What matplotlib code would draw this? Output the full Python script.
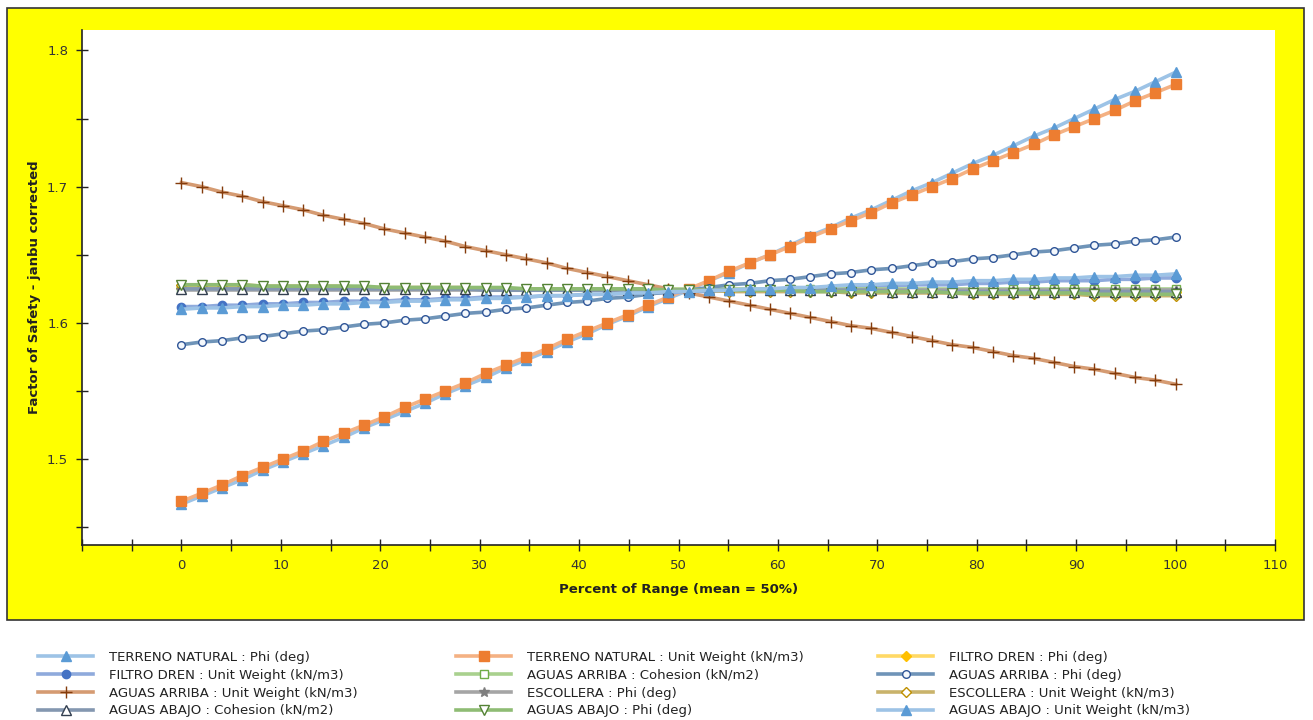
import numpy as np
import matplotlib.pyplot as plt
from matplotlib.patches import Rectangle
from matplotlib.ticker import MultipleLocator

# percent of range, 50 samples 0..100
pct = np.linspace(0, 100, 50)

tn_phi = [1.467, 1.473, 1.479, 1.485, 1.492, 1.498, 1.504, 1.510, 1.516, 1.523,
          1.529, 1.535, 1.541, 1.548, 1.554, 1.560, 1.567, 1.573, 1.579, 1.586,
          1.592, 1.599, 1.605, 1.612, 1.618, 1.624, 1.631, 1.637, 1.644, 1.650,
          1.657, 1.664, 1.670, 1.677, 1.683, 1.690, 1.697, 1.703, 1.710, 1.717,
          1.723, 1.730, 1.737, 1.743, 1.750, 1.757, 1.764, 1.770, 1.777, 1.784]
tn_uw = [1.469, 1.475, 1.481, 1.488, 1.494, 1.500, 1.506, 1.513, 1.519, 1.525,
         1.531, 1.538, 1.544, 1.550, 1.556, 1.563, 1.569, 1.575, 1.581, 1.588,
         1.594, 1.600, 1.606, 1.613, 1.619, 1.625, 1.631, 1.638, 1.644, 1.650,
         1.656, 1.663, 1.669, 1.675, 1.681, 1.688, 1.694, 1.700, 1.706, 1.713,
         1.719, 1.725, 1.731, 1.738, 1.744, 1.750, 1.756, 1.763, 1.769, 1.775]
fd_phi = [1.626, 1.626, 1.626, 1.626, 1.626, 1.626, 1.626, 1.626, 1.625, 1.625,
          1.625, 1.625, 1.625, 1.625, 1.625, 1.625, 1.625, 1.625, 1.625, 1.625,
          1.625, 1.625, 1.625, 1.625, 1.625, 1.624, 1.624, 1.624, 1.624, 1.624,
          1.624, 1.624, 1.624, 1.624, 1.624, 1.624, 1.624, 1.624, 1.624, 1.624,
          1.623, 1.623, 1.623, 1.623, 1.623, 1.623, 1.623, 1.623, 1.623, 1.623]
fd_uw = [1.612, 1.612, 1.613, 1.613, 1.614, 1.614, 1.615, 1.615, 1.616, 1.616,
         1.616, 1.617, 1.617, 1.618, 1.618, 1.619, 1.619, 1.619, 1.620, 1.620,
         1.621, 1.621, 1.622, 1.622, 1.622, 1.623, 1.623, 1.624, 1.624, 1.625,
         1.625, 1.625, 1.626, 1.626, 1.627, 1.627, 1.628, 1.628, 1.628, 1.629,
         1.629, 1.630, 1.630, 1.631, 1.631, 1.631, 1.632, 1.632, 1.633, 1.633]
aa_coh = [1.625, 1.625, 1.625, 1.625, 1.625, 1.625, 1.625, 1.625, 1.625, 1.625,
          1.625, 1.625, 1.625, 1.625, 1.625, 1.625, 1.625, 1.625, 1.625, 1.625,
          1.625, 1.625, 1.625, 1.625, 1.625, 1.625, 1.625, 1.625, 1.625, 1.625,
          1.625, 1.625, 1.625, 1.625, 1.625, 1.625, 1.625, 1.625, 1.625, 1.625,
          1.625, 1.625, 1.625, 1.625, 1.625, 1.625, 1.625, 1.625, 1.625, 1.625]
aa_phi = [1.584, 1.586, 1.587, 1.589, 1.590, 1.592, 1.594, 1.595, 1.597, 1.599,
          1.600, 1.602, 1.603, 1.605, 1.607, 1.608, 1.610, 1.611, 1.613, 1.615,
          1.616, 1.618, 1.619, 1.621, 1.623, 1.624, 1.626, 1.628, 1.629, 1.631,
          1.632, 1.634, 1.636, 1.637, 1.639, 1.640, 1.642, 1.644, 1.645, 1.647,
          1.648, 1.650, 1.652, 1.653, 1.655, 1.657, 1.658, 1.660, 1.661, 1.663]
aa_uw = [1.703, 1.700, 1.696, 1.693, 1.689, 1.686, 1.683, 1.679, 1.676, 1.673,
         1.669, 1.666, 1.663, 1.660, 1.656, 1.653, 1.650, 1.647, 1.644, 1.640,
         1.637, 1.634, 1.631, 1.628, 1.625, 1.622, 1.619, 1.616, 1.613, 1.610,
         1.607, 1.604, 1.601, 1.598, 1.596, 1.593, 1.590, 1.587, 1.584, 1.582,
         1.579, 1.576, 1.574, 1.571, 1.568, 1.566, 1.563, 1.560, 1.558, 1.555]
esc_phi = [1.624, 1.624, 1.624, 1.624, 1.624, 1.624, 1.624, 1.624, 1.624, 1.624,
           1.624, 1.624, 1.624, 1.624, 1.624, 1.624, 1.624, 1.624, 1.624, 1.624,
           1.624, 1.624, 1.624, 1.624, 1.624, 1.624, 1.624, 1.624, 1.624, 1.624,
           1.624, 1.624, 1.624, 1.624, 1.624, 1.624, 1.624, 1.624, 1.624, 1.624,
           1.624, 1.624, 1.624, 1.624, 1.624, 1.624, 1.624, 1.624, 1.624, 1.624]
esc_uw = [1.628, 1.628, 1.628, 1.628, 1.627, 1.627, 1.627, 1.627, 1.627, 1.626,
          1.626, 1.626, 1.626, 1.626, 1.626, 1.625, 1.625, 1.625, 1.625, 1.625,
          1.625, 1.624, 1.624, 1.624, 1.624, 1.624, 1.624, 1.623, 1.623, 1.623,
          1.623, 1.623, 1.623, 1.622, 1.622, 1.622, 1.622, 1.622, 1.622, 1.621,
          1.621, 1.621, 1.621, 1.621, 1.621, 1.620, 1.620, 1.620, 1.620, 1.620]
ab_coh = [1.625, 1.625, 1.625, 1.625, 1.625, 1.625, 1.625, 1.625, 1.625, 1.625,
          1.625, 1.625, 1.625, 1.625, 1.625, 1.624, 1.624, 1.624, 1.624, 1.624,
          1.624, 1.624, 1.624, 1.624, 1.624, 1.624, 1.624, 1.624, 1.624, 1.624,
          1.624, 1.624, 1.624, 1.624, 1.624, 1.623, 1.623, 1.623, 1.623, 1.623,
          1.623, 1.623, 1.623, 1.623, 1.623, 1.623, 1.623, 1.623, 1.623, 1.623]
ab_phi = [1.628, 1.628, 1.628, 1.628, 1.627, 1.627, 1.627, 1.627, 1.627, 1.627,
          1.626, 1.626, 1.626, 1.626, 1.626, 1.626, 1.626, 1.625, 1.625, 1.625,
          1.625, 1.625, 1.625, 1.625, 1.624, 1.624, 1.624, 1.624, 1.624, 1.624,
          1.624, 1.623, 1.623, 1.623, 1.623, 1.623, 1.623, 1.623, 1.622, 1.622,
          1.622, 1.622, 1.622, 1.622, 1.622, 1.621, 1.621, 1.621, 1.621, 1.621]
ab_uw = [1.610, 1.611, 1.611, 1.612, 1.612, 1.613, 1.613, 1.614, 1.614, 1.615,
         1.615, 1.616, 1.616, 1.617, 1.617, 1.618, 1.618, 1.619, 1.620, 1.620,
         1.621, 1.621, 1.622, 1.622, 1.623, 1.623, 1.624, 1.624, 1.625, 1.625,
         1.626, 1.626, 1.627, 1.628, 1.628, 1.629, 1.629, 1.630, 1.630, 1.631,
         1.631, 1.632, 1.632, 1.633, 1.633, 1.634, 1.634, 1.635, 1.635, 1.636]

# label, data, line colour, marker, marker face, marker edge, marker size
series = [
    ("TERRENO NATURAL : Phi (deg)", tn_phi, "#9dc3e6", "^", "#5b9bd5", "#5b9bd5", 7),
    ("TERRENO NATURAL : Unit Weight (kN/m3)", tn_uw, "#f4b183", "s", "#ed7d31", "#ed7d31", 6.5),
    ("FILTRO DREN : Phi (deg)", fd_phi, "#ffd966", "D", "#ffc000", "#ffc000", 5.5),
    ("FILTRO DREN : Unit Weight (kN/m3)", fd_uw, "#8faadc", "o", "#4472c4", "#4472c4", 6),
    ("AGUAS ARRIBA : Cohesion (kN/m2)", aa_coh, "#a9d18e", "s", "white", "#70ad47", 6),
    ("AGUAS ARRIBA : Phi (deg)", aa_phi, "#6f94b8", "o", "#f4f8fc", "#2f5597", 5.5),
    ("AGUAS ARRIBA : Unit Weight (kN/m3)", aa_uw, "#d59b72", "+", "#843c0c", "#843c0c", 8),
    ("ESCOLLERA : Phi (deg)", esc_phi, "#a5a5a5", "*", "#7f7f7f", "#7f7f7f", 7.5),
    ("ESCOLLERA : Unit Weight (kN/m3)", esc_uw, "#c9b36b", "D", "white", "#bf9000", 5.5),
    ("AGUAS ABAJO : Cohesion (kN/m2)", ab_coh, "#8497b0", "^", "white", "#333f50", 7),
    ("AGUAS ABAJO : Phi (deg)", ab_phi, "#8fbc74", "v", "white", "#548235", 7),
    ("AGUAS ABAJO : Unit Weight (kN/m3)", ab_uw, "#9dc3e6", "^", "#5b9bd5", "#5b9bd5", 7),
]

fig = plt.figure(figsize=(13.13, 7.2), dpi=100)
fig.patch.set_facecolor("white")

# yellow chart panel behind the axes
fig.patches.append(Rectangle((7 / 1313, 1 - 620 / 720), 1297 / 1313, 612 / 720,
                             transform=fig.transFigure, facecolor="#ffff00",
                             edgecolor="#333333", linewidth=1.2, zorder=-10))

ax = fig.add_axes([82 / 1313, 1 - 545 / 720, 1193 / 1313, 515 / 720])
ax.set_facecolor("white")

handles = []
for label, vals, lc, mk, mfc, mec, ms in series:
    h, = ax.plot(pct, vals, color=lc, linewidth=2.6, marker=mk, markersize=ms,
                 markerfacecolor=mfc, markeredgecolor=mec, markeredgewidth=1.0,
                 label=label)
    handles.append(h)

ax.set_xlim(-10, 110)
ax.set_ylim(1.437, 1.815)
ax.set_xticks(np.arange(0, 111, 10))
ax.xaxis.set_minor_locator(MultipleLocator(5))
ax.yaxis.set_major_locator(MultipleLocator(0.1))
ax.yaxis.set_minor_locator(MultipleLocator(0.05))
ax.tick_params(axis="both", which="both", direction="inout", length=8, width=1,
               color="#222222", labelsize=9.5, labelcolor="#333333", pad=6)
for s in ("top", "right"):
    ax.spines[s].set_visible(False)
for s in ("left", "bottom"):
    ax.spines[s].set_color("#222222")
    ax.spines[s].set_linewidth(1.2)

ax.set_xlabel("Percent of Range (mean = 50%)", fontsize=9.5, fontweight="bold",
              color="#222222", labelpad=8)
ax.set_ylabel("Factor of Safety - janbu corrected", fontsize=9.5, fontweight="bold",
              color="#222222", labelpad=4)

# legend below the yellow panel, three columns
col_x = [38 / 1313, 456 / 1313, 878 / 1313]
for c in range(3):
    hs = [handles[c + 3 * r] for r in range(4)]
    fig.legend(handles=hs, labels=[h.get_label() for h in hs],
               loc="upper left", bbox_to_anchor=(col_x[c], 1 - 651 / 720),
               frameon=False, fontsize=9.5, handlelength=4.2, handletextpad=1.2,
               labelspacing=0.36, borderaxespad=0, borderpad=0,
               labelcolor="#222222")

fig.savefig("out.png", dpi=100)
